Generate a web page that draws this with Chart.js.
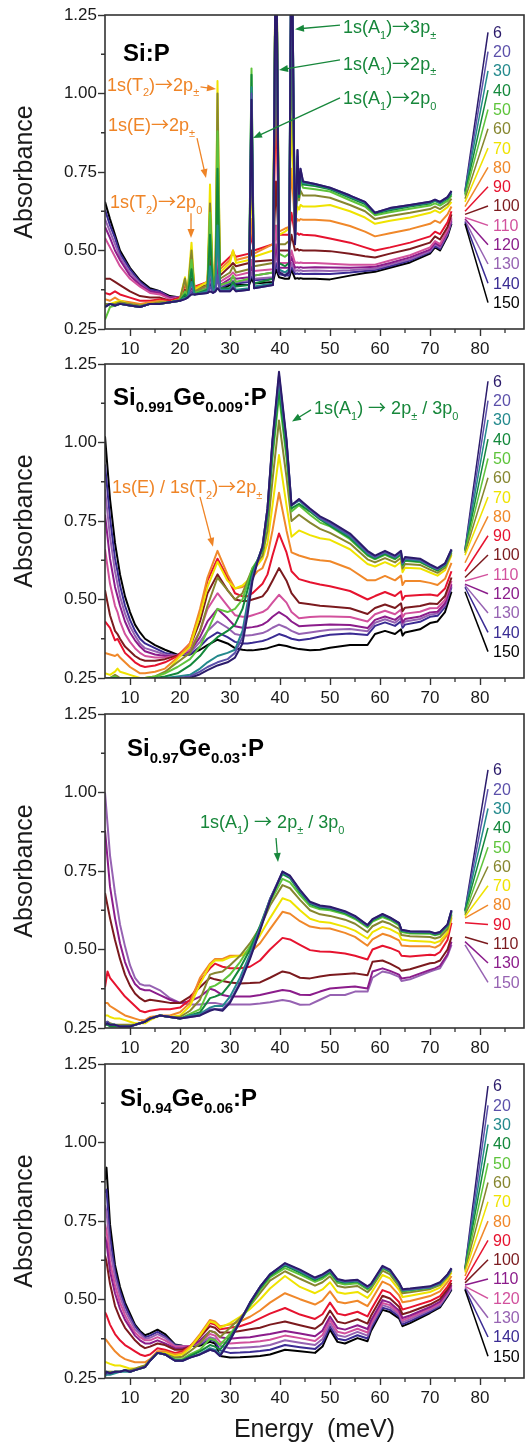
<!DOCTYPE html>
<html>
<head>
<meta charset="utf-8">
<title>Absorbance of Si:P and SiGe:P</title>
<script src="https://cdn.jsdelivr.net/npm/chart.js@4.4.1/dist/chart.umd.min.js"></script>
<style>
  body { margin: 0; background: #fff; }
  #page { position: relative; width: 528px; height: 1447px; overflow: hidden; }
  #page canvas { position: absolute; left: 0; }
</style>
</head>
<body>
<div id="page">
  <canvas id="p1" width="528" height="380" style="top:1px"></canvas>
  <canvas id="p2" width="528" height="380" style="top:350px"></canvas>
  <canvas id="p3" width="528" height="380" style="top:700px"></canvas>
  <canvas id="p4" width="528" height="397" style="top:1050px"></canvas>
</div>
<script>
const FONT = "'Liberation Sans', Arial, Helvetica, sans-serif";
const ARROW_FONT = "'Noto Sans CJK JP', 'DejaVu Sans', sans-serif";
Chart.defaults.font.family = FONT;
Chart.defaults.color = '#1a1a1a';

// axis ticks
const X_TICKS = [10, 20, 30, 40, 50, 60, 70, 80];
const X_MINOR = [15, 25, 35, 45, 55, 65, 75, 85];
const Y_TICKS = [0.25, 0.5, 0.75, 1.0, 1.25];
const Y_MINOR = [0.375, 0.625, 0.875, 1.125];

// temperatures (K)
const TEMPS_15 = [6, 20, 30, 40, 50, 60, 70, 80, 90, 100, 110, 120, 130, 140, 150];
const TEMPS_12 = [6, 20, 30, 40, 50, 60, 70, 80, 90, 110, 130, 150];

// ---- Si:P ----
const SIP_E = [5,6,7,8,10,12,14,16,18,20,21.0,21.5,22.3,22.9,25.5,26.0,26.6,27.1,27.5,28.0,30.0,30.6,31.2,33.8,34.3,34.8,38.6,39.2,39.8,41.0,41.8,42.3,43.0,43.5,43.8,44.1,44.6,47,50,54,57,59,62,66,70,71,72,73.5,74.3];
const SIP_6K = [0.32,0.33,0.325,0.33,0.325,0.32,0.33,0.33,0.335,0.34,0.345,0.35,0.36,0.36,0.365,0.37,0.365,0.37,0.38,0.37,0.37,0.38,0.37,0.375,0.98,0.38,0.39,1.6,0.43,0.42,0.43,1.6,0.52,0.82,0.68,0.76,0.72,0.712,0.70,0.675,0.655,0.62,0.635,0.645,0.655,0.662,0.655,0.67,0.69];
const SIP_20K = [0.32,0.33,0.325,0.33,0.325,0.32,0.33,0.33,0.335,0.34,0.345,0.35,0.365,0.36,0.365,0.385,0.365,0.37,0.42,0.37,0.37,0.385,0.37,0.375,1.0,0.38,0.39,1.6,0.43,0.42,0.43,1.6,0.52,0.82,0.68,0.76,0.72,0.712,0.70,0.675,0.655,0.62,0.635,0.645,0.655,0.662,0.655,0.67,0.688];
const SIP_30K = [0.32,0.33,0.325,0.33,0.325,0.32,0.33,0.33,0.335,0.34,0.35,0.35,0.40,0.36,0.37,0.45,0.37,0.38,0.58,0.375,0.375,0.39,0.375,0.38,1.02,0.385,0.395,1.6,0.44,0.43,0.44,1.6,0.52,0.80,0.68,0.75,0.715,0.71,0.698,0.672,0.652,0.62,0.632,0.643,0.653,0.66,0.652,0.668,0.685];
const SIP_40K = [0.32,0.33,0.325,0.33,0.325,0.32,0.33,0.33,0.335,0.34,0.36,0.35,0.44,0.36,0.375,0.55,0.375,0.39,0.76,0.38,0.38,0.40,0.385,0.39,1.06,0.395,0.41,1.6,0.46,0.45,0.46,1.6,0.53,0.78,0.67,0.74,0.71,0.705,0.695,0.668,0.648,0.618,0.628,0.64,0.65,0.658,0.65,0.665,0.68];
const SIP_50K = [0.28,0.32,0.325,0.33,0.325,0.32,0.33,0.33,0.335,0.34,0.37,0.355,0.47,0.365,0.38,0.62,0.38,0.40,0.88,0.39,0.40,0.42,0.40,0.41,1.08,0.42,0.43,1.6,0.49,0.48,0.49,1.4,0.56,0.75,0.67,0.72,0.70,0.695,0.688,0.66,0.64,0.612,0.622,0.633,0.643,0.65,0.643,0.658,0.675];
const SIP_60K = [0.33,0.33,0.33,0.335,0.33,0.325,0.33,0.335,0.335,0.345,0.41,0.36,0.50,0.37,0.39,0.65,0.39,0.42,1.00,0.41,0.43,0.45,0.43,0.44,0.85,0.45,0.46,1.6,0.52,0.52,0.53,1.15,0.58,0.70,0.66,0.69,0.675,0.675,0.668,0.645,0.625,0.60,0.61,0.62,0.632,0.64,0.632,0.648,0.665];
const SIP_70K = [0.33,0.33,0.335,0.34,0.33,0.325,0.33,0.335,0.335,0.345,0.415,0.365,0.525,0.375,0.40,0.71,0.40,0.44,1.04,0.43,0.46,0.50,0.46,0.47,0.72,0.48,0.50,1.6,0.55,0.56,0.57,0.92,0.59,0.64,0.63,0.645,0.64,0.64,0.645,0.625,0.605,0.585,0.595,0.605,0.62,0.628,0.62,0.638,0.655];
const SIP_80K = [0.345,0.34,0.35,0.34,0.335,0.33,0.335,0.34,0.335,0.345,0.40,0.37,0.48,0.38,0.40,0.60,0.40,0.45,0.85,0.44,0.47,0.50,0.47,0.48,0.60,0.49,0.52,1.2,0.56,0.57,0.575,0.76,0.58,0.60,0.595,0.60,0.598,0.598,0.595,0.578,0.56,0.545,0.555,0.568,0.585,0.595,0.588,0.615,0.64];
const SIP_90K = [0.365,0.36,0.37,0.36,0.35,0.34,0.34,0.345,0.34,0.35,0.39,0.375,0.44,0.385,0.40,0.52,0.41,0.45,0.70,0.45,0.48,0.49,0.48,0.49,0.55,0.50,0.52,0.97,0.55,0.55,0.55,0.62,0.55,0.555,0.55,0.553,0.55,0.548,0.538,0.525,0.51,0.50,0.51,0.525,0.545,0.56,0.552,0.59,0.625];
const SIP_100K = [0.41,0.41,0.40,0.39,0.37,0.355,0.35,0.35,0.34,0.35,0.375,0.37,0.41,0.38,0.39,0.47,0.40,0.42,0.58,0.42,0.45,0.46,0.45,0.46,0.50,0.465,0.47,0.72,0.50,0.50,0.50,0.55,0.50,0.505,0.50,0.502,0.50,0.50,0.498,0.49,0.482,0.478,0.49,0.505,0.525,0.545,0.535,0.575,0.615];
const SIP_110K = [0.54,0.51,0.48,0.45,0.41,0.385,0.365,0.36,0.345,0.35,0.37,0.365,0.39,0.375,0.385,0.43,0.39,0.40,0.50,0.40,0.42,0.43,0.42,0.43,0.47,0.435,0.44,0.58,0.46,0.46,0.46,0.50,0.46,0.462,0.46,0.462,0.46,0.46,0.458,0.455,0.455,0.455,0.468,0.485,0.51,0.53,0.52,0.565,0.605];
const SIP_120K = [0.575,0.54,0.50,0.47,0.42,0.39,0.37,0.365,0.35,0.35,0.365,0.36,0.38,0.37,0.38,0.42,0.385,0.39,0.46,0.39,0.41,0.415,0.41,0.415,0.45,0.42,0.43,0.52,0.445,0.445,0.445,0.48,0.445,0.447,0.445,0.447,0.445,0.447,0.446,0.445,0.447,0.448,0.46,0.478,0.503,0.525,0.515,0.56,0.60];
const SIP_130K = [0.60,0.56,0.52,0.48,0.43,0.395,0.37,0.365,0.35,0.35,0.36,0.36,0.375,0.37,0.375,0.41,0.38,0.385,0.44,0.385,0.40,0.405,0.40,0.405,0.43,0.41,0.415,0.49,0.435,0.43,0.43,0.46,0.435,0.437,0.435,0.437,0.435,0.436,0.435,0.437,0.44,0.442,0.455,0.472,0.498,0.52,0.51,0.555,0.595];
const SIP_140K = [0.63,0.58,0.54,0.49,0.44,0.40,0.375,0.37,0.35,0.35,0.36,0.36,0.37,0.37,0.37,0.40,0.375,0.38,0.43,0.38,0.395,0.40,0.395,0.40,0.42,0.405,0.41,0.46,0.425,0.42,0.42,0.45,0.425,0.427,0.425,0.427,0.425,0.426,0.425,0.43,0.435,0.438,0.45,0.468,0.495,0.515,0.505,0.55,0.59];
const SIP_150K = [0.655,0.60,0.55,0.50,0.445,0.405,0.38,0.37,0.355,0.35,0.355,0.355,0.365,0.365,0.365,0.39,0.37,0.375,0.42,0.375,0.39,0.39,0.39,0.39,0.41,0.395,0.40,0.44,0.415,0.41,0.41,0.44,0.41,0.412,0.41,0.412,0.41,0.41,0.408,0.42,0.428,0.432,0.445,0.462,0.49,0.51,0.50,0.545,0.585];

// ---- Si0.991Ge0.009:P ----
const GE009_E = [5,6,7,7.5,8,9,10,11,12,13,15,17,19.5,22,24,25.5,27.5,29.5,31,32.5,33.5,34.5,35.5,36.5,37.5,38.5,39.8,41.3,42.3,43.8,46,48,50,54,57.5,59,61,63,64.2,64.5,65,68,70,71.5,73,74.3];
const GE009_6K = [0.245,0.245,0.245,0.245,0.245,0.24,0.24,0.24,0.24,0.24,0.24,0.24,0.245,0.25,0.262,0.275,0.29,0.30,0.315,0.36,0.45,0.56,0.62,0.67,0.79,1.01,1.225,1.01,0.80,0.82,0.79,0.765,0.749,0.71,0.655,0.64,0.655,0.64,0.655,0.62,0.635,0.63,0.612,0.60,0.615,0.66];
const GE009_20K = [0.245,0.245,0.245,0.245,0.245,0.245,0.24,0.24,0.24,0.24,0.24,0.245,0.25,0.255,0.27,0.285,0.30,0.31,0.33,0.38,0.47,0.57,0.62,0.668,0.79,1.005,1.215,1.005,0.80,0.818,0.787,0.76,0.743,0.705,0.65,0.636,0.651,0.636,0.651,0.616,0.631,0.627,0.609,0.597,0.613,0.658];
const GE009_30K = [0.245,0.25,0.245,0.245,0.245,0.245,0.24,0.24,0.24,0.245,0.245,0.25,0.255,0.26,0.28,0.30,0.32,0.33,0.34,0.40,0.49,0.575,0.625,0.668,0.79,1.0,1.2,1.0,0.80,0.815,0.785,0.758,0.74,0.701,0.647,0.634,0.649,0.634,0.649,0.614,0.629,0.624,0.607,0.596,0.611,0.657];
const GE009_40K = [0.245,0.25,0.25,0.25,0.25,0.245,0.245,0.245,0.245,0.245,0.25,0.255,0.265,0.29,0.32,0.35,0.38,0.40,0.42,0.47,0.53,0.59,0.625,0.66,0.77,0.97,1.17,0.97,0.79,0.805,0.78,0.755,0.735,0.696,0.643,0.63,0.645,0.63,0.645,0.611,0.625,0.621,0.605,0.593,0.609,0.655];
const GE009_50K = [0.245,0.25,0.255,0.25,0.25,0.25,0.25,0.25,0.245,0.25,0.255,0.265,0.285,0.31,0.35,0.40,0.47,0.46,0.47,0.50,0.55,0.60,0.625,0.655,0.76,0.95,1.15,0.95,0.78,0.80,0.77,0.745,0.733,0.692,0.64,0.628,0.642,0.628,0.643,0.608,0.623,0.619,0.603,0.592,0.607,0.653];
const GE009_60K = [0.25,0.25,0.26,0.255,0.25,0.25,0.25,0.25,0.25,0.25,0.255,0.27,0.30,0.33,0.40,0.48,0.57,0.53,0.50,0.52,0.56,0.60,0.62,0.64,0.72,0.88,1.07,0.89,0.75,0.77,0.745,0.725,0.712,0.678,0.628,0.618,0.632,0.618,0.633,0.599,0.613,0.61,0.595,0.585,0.601,0.648];
const GE009_70K = [0.265,0.26,0.27,0.28,0.27,0.265,0.26,0.255,0.25,0.25,0.255,0.265,0.31,0.35,0.45,0.54,0.62,0.56,0.535,0.545,0.56,0.59,0.61,0.63,0.68,0.80,0.96,0.80,0.70,0.72,0.705,0.695,0.69,0.66,0.613,0.605,0.619,0.605,0.62,0.587,0.601,0.599,0.586,0.576,0.593,0.641];
const GE009_80K = [0.33,0.325,0.32,0.325,0.315,0.30,0.285,0.275,0.265,0.265,0.27,0.28,0.315,0.36,0.47,0.57,0.655,0.58,0.535,0.54,0.55,0.57,0.59,0.60,0.64,0.72,0.84,0.72,0.65,0.64,0.63,0.625,0.622,0.598,0.561,0.561,0.575,0.561,0.576,0.546,0.559,0.559,0.553,0.546,0.566,0.617];
const GE009_90K = [0.43,0.41,0.37,0.375,0.36,0.33,0.315,0.30,0.29,0.285,0.29,0.30,0.32,0.36,0.46,0.56,0.63,0.57,0.52,0.51,0.51,0.52,0.535,0.55,0.58,0.64,0.71,0.65,0.59,0.565,0.555,0.548,0.542,0.527,0.50,0.511,0.524,0.511,0.526,0.499,0.511,0.514,0.516,0.512,0.535,0.59];
const GE009_100K = [0.53,0.45,0.40,0.39,0.375,0.35,0.335,0.32,0.31,0.305,0.305,0.31,0.322,0.35,0.43,0.52,0.58,0.53,0.50,0.495,0.495,0.50,0.505,0.51,0.53,0.56,0.60,0.56,0.52,0.49,0.485,0.48,0.478,0.472,0.454,0.473,0.484,0.473,0.488,0.463,0.474,0.479,0.487,0.486,0.511,0.57];
const GE009_110K = [0.66,0.55,0.48,0.46,0.43,0.39,0.365,0.345,0.33,0.32,0.315,0.315,0.322,0.34,0.40,0.47,0.52,0.48,0.45,0.445,0.445,0.45,0.455,0.46,0.47,0.49,0.515,0.49,0.46,0.44,0.444,0.446,0.446,0.444,0.43,0.453,0.464,0.453,0.468,0.444,0.455,0.461,0.472,0.473,0.499,0.559];
const GE009_120K = [0.77,0.63,0.54,0.51,0.48,0.43,0.395,0.37,0.35,0.335,0.325,0.32,0.322,0.335,0.38,0.43,0.47,0.44,0.415,0.41,0.41,0.412,0.415,0.42,0.43,0.445,0.46,0.445,0.43,0.415,0.417,0.419,0.42,0.419,0.409,0.435,0.446,0.435,0.45,0.427,0.438,0.446,0.459,0.461,0.488,0.549];
const GE009_130K = [0.85,0.70,0.59,0.55,0.51,0.455,0.415,0.385,0.36,0.345,0.335,0.325,0.322,0.33,0.365,0.40,0.43,0.41,0.39,0.385,0.385,0.387,0.39,0.393,0.40,0.41,0.42,0.41,0.40,0.39,0.395,0.40,0.404,0.406,0.399,0.426,0.437,0.426,0.441,0.419,0.43,0.438,0.452,0.455,0.482,0.545];
const GE009_140K = [0.93,0.76,0.63,0.59,0.545,0.48,0.435,0.40,0.375,0.36,0.345,0.33,0.322,0.325,0.35,0.375,0.395,0.38,0.365,0.36,0.36,0.362,0.365,0.368,0.373,0.38,0.39,0.382,0.375,0.37,0.375,0.382,0.388,0.392,0.387,0.416,0.427,0.416,0.431,0.41,0.42,0.429,0.445,0.448,0.476,0.539];
const GE009_150K = [1.02,0.82,0.68,0.63,0.58,0.51,0.46,0.42,0.395,0.375,0.355,0.34,0.324,0.325,0.34,0.355,0.372,0.36,0.345,0.34,0.338,0.338,0.34,0.342,0.345,0.35,0.356,0.352,0.347,0.342,0.338,0.34,0.346,0.355,0.355,0.39,0.40,0.39,0.405,0.385,0.395,0.405,0.425,0.43,0.46,0.525];

// ---- Si0.97Ge0.03:P ----
const GE03_E = [5,5.5,6,7,8,9,10,11,12,13,14,16,18,20,22,24,26,27,28.5,30,32,34,36,38,40.5,42,44,46,48,50,53,55,57.5,58.5,60.5,62,63.8,64.3,66,70,71,72,73.5,74.3];
const GE03_6K = [0.26,0.265,0.26,0.26,0.255,0.255,0.255,0.26,0.265,0.27,0.28,0.29,0.285,0.28,0.285,0.29,0.305,0.31,0.305,0.33,0.39,0.47,0.56,0.655,0.748,0.735,0.69,0.652,0.64,0.636,0.622,0.607,0.578,0.597,0.613,0.602,0.585,0.563,0.558,0.557,0.552,0.556,0.58,0.625];
const GE03_20K = [0.265,0.27,0.26,0.26,0.255,0.255,0.255,0.26,0.265,0.27,0.28,0.29,0.285,0.28,0.285,0.29,0.31,0.31,0.31,0.335,0.395,0.475,0.565,0.66,0.748,0.733,0.688,0.65,0.638,0.634,0.62,0.605,0.577,0.596,0.612,0.601,0.584,0.562,0.557,0.556,0.551,0.555,0.579,0.624];
const GE03_30K = [0.26,0.265,0.26,0.26,0.255,0.255,0.255,0.26,0.265,0.27,0.28,0.29,0.285,0.28,0.29,0.295,0.315,0.32,0.32,0.35,0.41,0.485,0.57,0.66,0.745,0.731,0.686,0.648,0.636,0.633,0.619,0.604,0.576,0.595,0.61,0.60,0.583,0.561,0.556,0.555,0.55,0.554,0.578,0.623];
const GE03_40K = [0.26,0.26,0.255,0.255,0.255,0.255,0.255,0.26,0.265,0.27,0.28,0.29,0.285,0.28,0.29,0.30,0.345,0.35,0.36,0.39,0.44,0.50,0.575,0.66,0.74,0.727,0.682,0.645,0.633,0.63,0.616,0.601,0.574,0.593,0.608,0.598,0.581,0.559,0.554,0.553,0.548,0.552,0.576,0.62];
const GE03_50K = [0.26,0.265,0.26,0.26,0.255,0.255,0.255,0.26,0.265,0.27,0.28,0.29,0.285,0.28,0.295,0.31,0.38,0.385,0.40,0.42,0.46,0.51,0.57,0.65,0.725,0.714,0.673,0.638,0.628,0.625,0.612,0.597,0.57,0.589,0.603,0.594,0.577,0.556,0.551,0.55,0.545,0.549,0.573,0.615];
const GE03_60K = [0.265,0.27,0.265,0.26,0.26,0.26,0.26,0.26,0.265,0.27,0.28,0.29,0.285,0.285,0.305,0.34,0.42,0.425,0.43,0.45,0.48,0.52,0.57,0.64,0.705,0.695,0.658,0.625,0.612,0.607,0.595,0.582,0.555,0.574,0.59,0.582,0.566,0.546,0.542,0.54,0.535,0.54,0.565,0.61];
const GE03_70K = [0.29,0.29,0.285,0.28,0.28,0.275,0.27,0.265,0.265,0.265,0.275,0.29,0.285,0.29,0.32,0.39,0.45,0.465,0.465,0.475,0.48,0.50,0.545,0.60,0.663,0.655,0.625,0.598,0.588,0.585,0.572,0.56,0.535,0.555,0.572,0.565,0.55,0.532,0.528,0.525,0.521,0.527,0.555,0.605];
const GE03_80K = [0.33,0.33,0.32,0.31,0.30,0.29,0.285,0.28,0.275,0.275,0.285,0.29,0.29,0.30,0.33,0.41,0.455,0.47,0.47,0.48,0.48,0.49,0.52,0.565,0.62,0.614,0.59,0.573,0.568,0.567,0.553,0.54,0.512,0.532,0.55,0.543,0.529,0.513,0.51,0.51,0.506,0.515,0.548,0.60];
const GE03_90K = [0.38,0.43,0.41,0.39,0.37,0.35,0.335,0.32,0.305,0.30,0.305,0.31,0.31,0.315,0.34,0.40,0.44,0.455,0.445,0.44,0.44,0.445,0.465,0.50,0.537,0.532,0.515,0.498,0.494,0.493,0.487,0.48,0.468,0.50,0.512,0.505,0.493,0.48,0.478,0.483,0.482,0.492,0.53,0.585];
const GE03_110K = [0.68,0.64,0.60,0.53,0.47,0.42,0.385,0.36,0.345,0.335,0.34,0.335,0.33,0.33,0.35,0.38,0.41,0.405,0.40,0.395,0.392,0.393,0.395,0.41,0.43,0.425,0.41,0.408,0.414,0.419,0.422,0.424,0.418,0.461,0.465,0.455,0.44,0.432,0.437,0.456,0.458,0.465,0.50,0.54];
const GE03_130K = [0.88,0.79,0.70,0.60,0.52,0.46,0.42,0.39,0.375,0.37,0.37,0.355,0.34,0.33,0.335,0.35,0.375,0.37,0.355,0.35,0.35,0.35,0.355,0.362,0.371,0.368,0.356,0.355,0.366,0.376,0.38,0.382,0.376,0.43,0.44,0.432,0.42,0.408,0.412,0.435,0.44,0.448,0.485,0.525];
const GE03_150K = [1.0,0.90,0.80,0.68,0.58,0.51,0.45,0.41,0.39,0.385,0.385,0.37,0.345,0.33,0.325,0.325,0.33,0.33,0.325,0.325,0.325,0.325,0.328,0.332,0.339,0.335,0.324,0.325,0.34,0.355,0.355,0.366,0.366,0.41,0.43,0.425,0.413,0.40,0.405,0.43,0.435,0.44,0.48,0.515];

// ---- Si0.94Ge0.06:P ----
const GE06_E = [5,5.3,6,7,8,9,10,11,12,13,14,15.5,17,19,20.5,22,24,26,27,28,30,32,34,36,38,41,44,47,48.5,50,51.5,53,55.5,57.5,58.2,60.5,62,63.8,64.5,66,70,72,73.5,74.3];
const GE06_6K = [0.26,0.27,0.265,0.27,0.27,0.275,0.27,0.275,0.28,0.285,0.305,0.33,0.325,0.305,0.305,0.315,0.325,0.34,0.335,0.32,0.37,0.43,0.49,0.54,0.58,0.616,0.595,0.57,0.58,0.595,0.565,0.56,0.563,0.542,0.55,0.607,0.595,0.555,0.533,0.535,0.542,0.555,0.58,0.60];
const GE06_20K = [0.26,0.265,0.265,0.27,0.27,0.275,0.27,0.275,0.28,0.285,0.305,0.33,0.325,0.305,0.305,0.315,0.325,0.34,0.335,0.32,0.37,0.43,0.49,0.54,0.58,0.614,0.593,0.568,0.578,0.593,0.563,0.558,0.561,0.54,0.548,0.605,0.593,0.553,0.531,0.533,0.54,0.553,0.578,0.598];
const GE06_30K = [0.255,0.26,0.26,0.265,0.27,0.27,0.27,0.275,0.28,0.285,0.305,0.33,0.325,0.305,0.305,0.315,0.327,0.345,0.34,0.325,0.372,0.43,0.49,0.54,0.58,0.612,0.59,0.566,0.576,0.591,0.561,0.556,0.559,0.538,0.546,0.603,0.591,0.551,0.529,0.531,0.538,0.551,0.576,0.596];
const GE06_40K = [0.265,0.27,0.265,0.27,0.27,0.275,0.27,0.275,0.28,0.285,0.305,0.33,0.325,0.307,0.307,0.32,0.335,0.355,0.35,0.34,0.38,0.43,0.485,0.535,0.575,0.608,0.586,0.562,0.572,0.588,0.558,0.553,0.557,0.536,0.545,0.602,0.59,0.551,0.529,0.531,0.539,0.552,0.578,0.598];
const GE06_50K = [0.26,0.265,0.265,0.27,0.27,0.275,0.27,0.275,0.28,0.285,0.305,0.33,0.325,0.31,0.31,0.325,0.34,0.375,0.37,0.355,0.39,0.43,0.48,0.53,0.57,0.60,0.579,0.556,0.566,0.584,0.553,0.548,0.552,0.532,0.541,0.599,0.587,0.548,0.526,0.528,0.537,0.55,0.576,0.596];
const GE06_60K = [0.27,0.27,0.27,0.27,0.27,0.275,0.275,0.28,0.285,0.29,0.307,0.33,0.327,0.315,0.318,0.335,0.36,0.40,0.395,0.38,0.41,0.44,0.48,0.52,0.56,0.59,0.566,0.544,0.555,0.574,0.543,0.538,0.543,0.523,0.534,0.592,0.58,0.542,0.52,0.523,0.533,0.546,0.572,0.592];
const GE06_70K = [0.30,0.30,0.295,0.29,0.29,0.285,0.28,0.28,0.285,0.29,0.305,0.33,0.33,0.32,0.325,0.345,0.385,0.43,0.425,0.41,0.425,0.445,0.47,0.50,0.535,0.575,0.54,0.52,0.532,0.555,0.523,0.518,0.524,0.505,0.519,0.578,0.567,0.531,0.508,0.512,0.524,0.538,0.565,0.586];
const GE06_80K = [0.375,0.37,0.355,0.335,0.32,0.31,0.305,0.30,0.30,0.30,0.31,0.335,0.335,0.325,0.33,0.35,0.39,0.435,0.43,0.415,0.42,0.43,0.445,0.465,0.49,0.52,0.501,0.484,0.497,0.526,0.493,0.488,0.496,0.479,0.496,0.557,0.546,0.514,0.491,0.495,0.511,0.526,0.555,0.575];
const GE06_90K = [0.46,0.45,0.42,0.39,0.37,0.355,0.345,0.335,0.325,0.32,0.325,0.345,0.34,0.33,0.335,0.35,0.385,0.425,0.42,0.405,0.41,0.415,0.425,0.44,0.455,0.473,0.452,0.438,0.453,0.49,0.455,0.45,0.461,0.446,0.467,0.53,0.521,0.492,0.468,0.475,0.495,0.511,0.541,0.562];
const GE06_100K = [0.64,0.62,0.55,0.48,0.44,0.41,0.39,0.37,0.355,0.345,0.35,0.36,0.355,0.34,0.34,0.35,0.38,0.415,0.41,0.395,0.395,0.40,0.405,0.41,0.42,0.43,0.418,0.407,0.424,0.465,0.429,0.424,0.437,0.423,0.448,0.512,0.503,0.477,0.453,0.46,0.484,0.501,0.532,0.553];
const GE06_110K = [0.70,0.68,0.59,0.52,0.47,0.435,0.41,0.385,0.37,0.36,0.36,0.37,0.36,0.345,0.345,0.35,0.37,0.40,0.395,0.38,0.375,0.378,0.38,0.385,0.39,0.40,0.392,0.383,0.401,0.446,0.409,0.404,0.418,0.406,0.433,0.498,0.49,0.465,0.441,0.449,0.476,0.493,0.525,0.546];
const GE06_120K = [0.74,0.72,0.62,0.545,0.49,0.45,0.42,0.395,0.38,0.37,0.37,0.38,0.37,0.35,0.35,0.352,0.365,0.39,0.385,0.365,0.36,0.362,0.364,0.367,0.372,0.385,0.377,0.368,0.387,0.435,0.397,0.392,0.407,0.395,0.424,0.489,0.482,0.458,0.434,0.443,0.471,0.488,0.521,0.542];
const GE06_130K = [0.80,0.78,0.66,0.57,0.51,0.465,0.435,0.405,0.39,0.375,0.378,0.39,0.378,0.352,0.35,0.352,0.36,0.38,0.375,0.352,0.345,0.346,0.348,0.35,0.355,0.37,0.362,0.355,0.374,0.424,0.386,0.381,0.397,0.385,0.416,0.482,0.474,0.452,0.427,0.437,0.466,0.483,0.517,0.538];
const GE06_140K = [0.84,0.85,0.70,0.59,0.525,0.48,0.445,0.415,0.395,0.38,0.385,0.397,0.383,0.355,0.352,0.352,0.357,0.372,0.367,0.338,0.33,0.331,0.333,0.336,0.34,0.355,0.348,0.342,0.362,0.414,0.375,0.37,0.386,0.376,0.408,0.474,0.467,0.446,0.421,0.431,0.461,0.479,0.514,0.534];
const GE06_150K = [0.88,0.92,0.74,0.61,0.54,0.49,0.455,0.42,0.40,0.386,0.392,0.404,0.39,0.357,0.353,0.352,0.353,0.365,0.36,0.32,0.315,0.316,0.318,0.32,0.325,0.34,0.335,0.33,0.35,0.404,0.365,0.36,0.377,0.367,0.40,0.467,0.46,0.44,0.415,0.425,0.457,0.475,0.51,0.531];

// styles
const AXIS = '#333';
const ORANGE = '#ef8426';
const GREEN = '#17873b';
const C = {
  indigo: '#2b1b6b', slate: '#5b50aa', teal: '#23898c', dkgreen: '#13883b', ltgreen: '#5ec43b',
  olive: '#86862f', yellow: '#efe300', orange: '#f0882a', red: '#e6132f', maroon: '#7b1a1e',
  pink: '#d2519d', purple: '#8b1c8b', lavender: '#9662b2', navy: '#3a2b93', black: '#000000'
};
const COLORS_A = [C.indigo, C.slate, C.teal, C.dkgreen, C.ltgreen, C.olive, C.yellow, C.orange, C.red, C.maroon, C.pink, C.purple, C.lavender, C.navy, C.black];
const COLORS_B = [C.indigo, C.slate, C.teal, C.dkgreen, C.ltgreen, C.olive, C.yellow, C.orange, C.red, C.maroon, C.purple, C.lavender];
const COLORS_C = [C.indigo, C.slate, C.teal, C.dkgreen, C.ltgreen, C.olive, C.yellow, C.orange, C.red, C.maroon, C.purple, C.pink, C.lavender, C.navy, C.black];

// leader lines of the temperature labels run from FAN_FROM to FAN_TO (meV)
const FAN_FROM = 77;
const FAN_TO = 81.6;
const LABEL_STEP = 0.0615;

const PANELS = [
  {
    id: 'p1', energy: SIP_E, temps: TEMPS_15, colors: COLORS_A, xHeight: 52, xTitle: false,
    series: [SIP_6K, SIP_20K, SIP_30K, SIP_40K, SIP_50K, SIP_60K, SIP_70K, SIP_80K, SIP_90K, SIP_100K, SIP_110K, SIP_120K, SIP_130K, SIP_140K, SIP_150K],
    labelTop: 1.195,
    title: { text: 'Si:P', x: 8.6, y: 1.132 },
    notes: [
      { text: '1s(T_{2})→2p_{±}', x: 5.4, y: 1.03, color: ORANGE, arrow: [24.1, 1.021, 27.2, 1.014] },
      { text: '1s(E)→2p_{±}', x: 5.6, y: 0.90, color: ORANGE, arrow: [23.4, 0.858, 25.2, 0.731] },
      { text: '1s(T_{2})→2p_{0}', x: 6.0, y: 0.655, color: ORANGE, arrow: [22.2, 0.619, 22.2, 0.54] },
      { text: '1s(A_{1})→3p_{±}', x: 52.6, y: 1.212, color: GREEN, arrow: [52.0, 1.218, 43.0, 1.205] },
      { text: '1s(A_{1})→2p_{±}', x: 52.6, y: 1.097, color: GREEN, arrow: [52.0, 1.107, 39.8, 1.075] },
      { text: '1s(A_{1})→2p_{0}', x: 52.6, y: 0.986, color: GREEN, arrow: [52.0, 0.986, 34.6, 0.858] }
    ]
  },
  {
    id: 'p2', energy: GE009_E, temps: TEMPS_15, colors: COLORS_A, xHeight: 52, xTitle: false,
    series: [GE009_6K, GE009_20K, GE009_30K, GE009_40K, GE009_50K, GE009_60K, GE009_70K, GE009_80K, GE009_90K, GE009_100K, GE009_110K, GE009_120K, GE009_130K, GE009_140K, GE009_150K],
    labelTop: 1.195,
    title: { text: 'Si_{0.991}Ge_{0.009}:P', x: 6.6, y: 1.146 },
    notes: [
      { text: '1s(E) / 1s(T_{2})→2p_{±}', x: 6.4, y: 0.859, color: ORANGE, arrow: [24.0, 0.827, 26.6, 0.668] },
      { text: '1s(A_{1}) → 2p_{±} / 3p_{0}', x: 46.8, y: 1.111, color: GREEN, arrow: [46.2, 1.104, 42.4, 1.067] }
    ]
  },
  {
    id: 'p3', energy: GE03_E, temps: TEMPS_12, colors: COLORS_B, xHeight: 52, xTitle: false,
    series: [GE03_6K, GE03_20K, GE03_30K, GE03_40K, GE03_50K, GE03_60K, GE03_70K, GE03_80K, GE03_90K, GE03_110K, GE03_130K, GE03_150K],
    labelTop: 1.072,
    title: { text: 'Si_{0.97}Ge_{0.03}:P', x: 9.4, y: 1.143 },
    notes: [
      { text: '1s(A_{1}) → 2p_{±} / 3p_{0}', x: 24.0, y: 0.906, color: GREEN, arrow: [39.2, 0.855, 39.6, 0.779] }
    ]
  },
  {
    id: 'p4', energy: GE06_E, temps: TEMPS_15, colors: COLORS_C, xHeight: 69, xTitle: true,
    series: [GE06_6K, GE06_20K, GE06_30K, GE06_40K, GE06_50K, GE06_60K, GE06_70K, GE06_80K, GE06_90K, GE06_100K, GE06_110K, GE06_120K, GE06_130K, GE06_140K, GE06_150K],
    labelTop: 1.18,
    title: { text: 'Si_{0.94}Ge_{0.06}:P', x: 8.0, y: 1.143 },
    notes: []
  }
];

// text with _{...} subscripts, vertically centred on y; the arrow sign uses a font with a longer, thinner glyph
function drawRich(ctx, str, x, y, size, bold, color) {
  const parts = str.split(/_\{([^}]*)\}/);
  const weight = bold ? 'bold ' : '';
  const base = y + size * 0.36;
  let cx = x;
  ctx.fillStyle = color;
  ctx.textAlign = 'left';
  ctx.textBaseline = 'alphabetic';
  parts.forEach((p, i) => {
    if (!p) return;
    const sub = i % 2 === 1;
    const s = sub ? Math.round(size * 0.62) : size;
    p.split(/(→)/).forEach(chunk => {
      if (!chunk) return;
      ctx.font = chunk === '→' ? s + 'px ' + ARROW_FONT : weight + s + 'px ' + FONT;
      ctx.fillText(chunk, cx, sub ? base + size * 0.3 : base);
      cx += ctx.measureText(chunk).width;
    });
  });
}

function drawArrow(ctx, x1, y1, x2, y2, color) {
  const a = Math.atan2(y2 - y1, x2 - x1);
  const L = 9, W = 3.5;
  ctx.strokeStyle = color;
  ctx.lineWidth = 1.3;
  ctx.beginPath();
  ctx.moveTo(x1, y1);
  ctx.lineTo(x2 - L * 0.8 * Math.cos(a), y2 - L * 0.8 * Math.sin(a));
  ctx.stroke();
  ctx.fillStyle = color;
  ctx.beginPath();
  ctx.moveTo(x2, y2);
  ctx.lineTo(x2 - L * Math.cos(a) + W * Math.sin(a), y2 - L * Math.sin(a) - W * Math.cos(a));
  ctx.lineTo(x2 - L * Math.cos(a) - W * Math.sin(a), y2 - L * Math.sin(a) + W * Math.cos(a));
  ctx.closePath();
  ctx.fill();
}

// frame, minor ticks, temperature labels and transition notes
function decor(p) {
  return {
    id: 'decor',
    afterDraw(chart) {
      const { ctx, chartArea: a, scales: { x, y } } = chart;
      ctx.save();
      ctx.strokeStyle = AXIS;
      ctx.lineWidth = 1.6;
      ctx.strokeRect(a.left, a.top, a.right - a.left, a.bottom - a.top);

      ctx.lineWidth = 1.3;
      ctx.beginPath();
      X_MINOR.forEach(v => {
        const px = x.getPixelForValue(v);
        ctx.moveTo(px, a.bottom);
        ctx.lineTo(px, a.bottom + 4);
      });
      Y_MINOR.forEach(v => {
        const py = y.getPixelForValue(v);
        ctx.moveTo(a.left - 4, py);
        ctx.lineTo(a.left, py);
      });
      ctx.stroke();

      const x0 = x.getPixelForValue(FAN_FROM);
      const x1 = x.getPixelForValue(FAN_TO);
      p.temps.forEach((t, i) => {
        const vals = p.series[i];
        const y0 = y.getPixelForValue(vals[vals.length - 1]);
        const y1 = y.getPixelForValue(p.labelTop - i * LABEL_STEP);
        ctx.strokeStyle = p.colors[i];
        ctx.lineWidth = 1.5;
        ctx.beginPath();
        ctx.moveTo(x0, y0);
        ctx.lineTo(x1, y1);
        ctx.stroke();
        ctx.fillStyle = p.colors[i];
        ctx.font = '16px ' + FONT;
        ctx.textAlign = 'left';
        ctx.textBaseline = 'middle';
        ctx.fillText(String(t), x1 + 5, y1 + 1);
      });

      drawRich(ctx, p.title.text, x.getPixelForValue(p.title.x), y.getPixelForValue(p.title.y), 24, true, '#000');
      p.notes.forEach(n => {
        drawRich(ctx, n.text, x.getPixelForValue(n.x), y.getPixelForValue(n.y), 18, false, n.color);
        const [ax, ay, bx, by] = n.arrow;
        drawArrow(ctx, x.getPixelForValue(ax), y.getPixelForValue(ay), x.getPixelForValue(bx), y.getPixelForValue(by), n.color);
      });
      ctx.restore();
    }
  };
}

function buildChart(p) {
  const datasets = p.temps.map((t, i) => ({
    label: t + ' K',
    data: p.energy.map((e, k) => ({ x: e, y: p.series[i][k] })),
    borderColor: p.colors[i],
    borderWidth: 2,
    pointRadius: 0,
    tension: 0,
    borderJoinStyle: 'round',
    fill: false
  }));
  const tickGrid = { drawOnChartArea: false, drawTicks: true, tickLength: 7, tickWidth: 1.4, tickColor: AXIS };
  new Chart(document.getElementById(p.id), {
    type: 'line',
    data: { datasets },
    options: {
      responsive: false,
      animation: false,
      events: [],
      layout: { padding: { top: 14, right: 4, left: 0, bottom: 0 } },
      plugins: { legend: { display: false }, tooltip: { enabled: false } },
      scales: {
        x: {
          type: 'linear', min: 5, max: 88.8,
          afterBuildTicks: s => { s.ticks = X_TICKS.map(v => ({ value: v })); },
          afterFit: s => { s.height = p.xHeight; },
          ticks: { font: { size: 17 }, padding: 3, maxRotation: 0, color: '#1a1a1a' },
          grid: tickGrid,
          border: { display: false },
          title: { display: p.xTitle, text: 'Energy  (meV)', font: { size: 25 }, color: '#1a1a1a', padding: { top: 0, bottom: 2 } }
        },
        y: {
          type: 'linear', min: 0.25, max: 1.25,
          afterBuildTicks: s => { s.ticks = Y_TICKS.map(v => ({ value: v })); },
          afterFit: s => { s.width = 105; },
          ticks: { font: { size: 17 }, padding: 1, color: '#1a1a1a', callback: v => v.toFixed(2) },
          grid: tickGrid,
          border: { display: false },
          title: { display: true, text: 'Absorbance', font: { size: 25 }, color: '#1a1a1a', padding: { top: 10, bottom: 0 } }
        }
      }
    },
    plugins: [decor(p)]
  });
}

PANELS.forEach(buildChart);
</script>
</body>
</html>
